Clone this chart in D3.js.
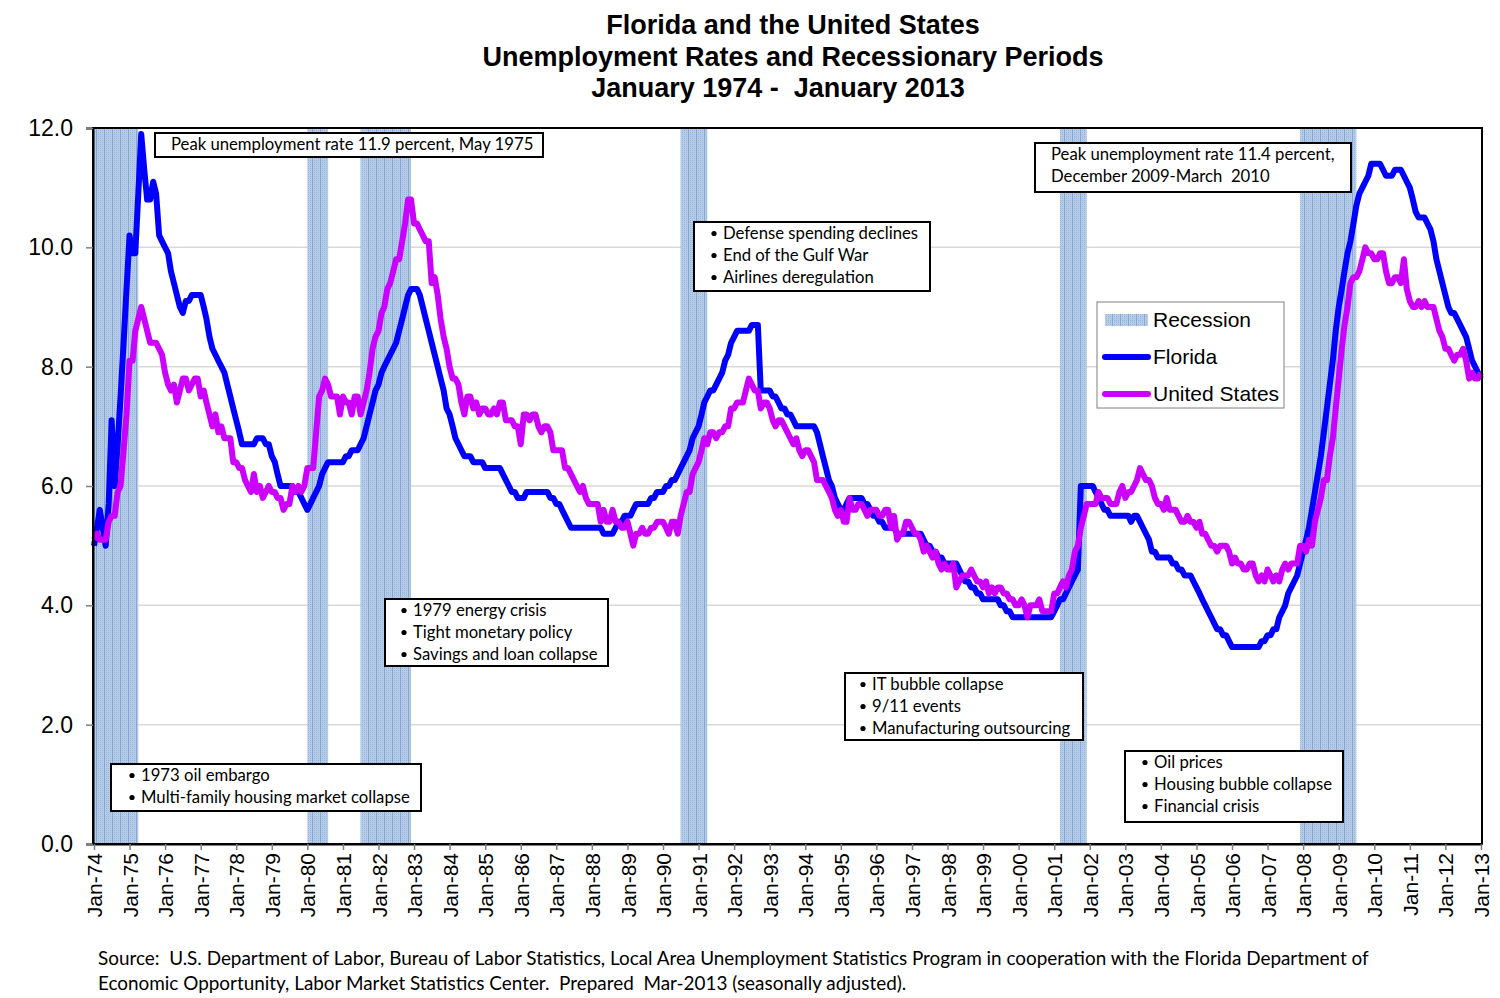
<!DOCTYPE html>
<html>
<head>
<meta charset="utf-8">
<script src="https://cdn.jsdelivr.net/npm/d3@7"></script>
<style>
  body { margin: 0; background: #fff; }
  text { white-space: pre; }
  .axis text { font-family: Arial, "Liberation Sans", sans-serif; fill: #000; }
  .note, .source { font-family: Lato, "Open Sans", sans-serif; fill: #000; }
  .title { font-family: Arial, "Liberation Sans", sans-serif; font-weight: bold; font-size: 27px; }
  .legend text { font-family: Arial, "Liberation Sans", sans-serif; font-size: 21px; }
</style>
</head>
<body>
<div id="chart"></div>
<script>

// monthly rates, Jan 1974 .. Jan 2013 (seasonally adjusted, percent)
var floridaRate = [
  5.0, 5.3, 5.6, 5.3, 5.0, 5.7, 7.1, 6.0, 6.7, 7.5, 8.4, 9.3,        // 1974
  10.2, 9.9, 9.9, 10.9, 11.9, 11.3, 10.8, 10.8, 11.1, 10.9, 10.2, 10.1, // 1975
  10.0, 9.9, 9.6, 9.4, 9.2, 9.0, 8.9, 9.1, 9.1, 9.2, 9.2, 9.2,       // 1976
  9.2, 9.0, 8.8, 8.5, 8.3, 8.2, 8.1, 8.0, 7.9, 7.7, 7.5, 7.3,        // 1977
  7.1, 6.9, 6.7, 6.7, 6.7, 6.7, 6.7, 6.8, 6.8, 6.8, 6.7, 6.7,        // 1978
  6.5, 6.4, 6.2, 6.0, 6.0, 6.0, 6.0, 6.0, 5.9, 5.9, 5.8, 5.7,        // 1979
  5.6, 5.7, 5.8, 5.9, 6.0, 6.2, 6.3, 6.4, 6.4, 6.4, 6.4, 6.4,        // 1980
  6.4, 6.5, 6.5, 6.6, 6.6, 6.6, 6.7, 6.8, 7.0, 7.2, 7.4, 7.6,        // 1981
  7.7, 7.9, 8.0, 8.1, 8.2, 8.3, 8.4, 8.6, 8.8, 9.0, 9.2, 9.3,        // 1982
  9.3, 9.3, 9.2, 9.0, 8.8, 8.6, 8.4, 8.2, 8.0, 7.8, 7.6, 7.3,        // 1983
  7.2, 7.0, 6.8, 6.7, 6.6, 6.5, 6.5, 6.5, 6.4, 6.4, 6.4, 6.4,        // 1984
  6.3, 6.3, 6.3, 6.3, 6.3, 6.3, 6.2, 6.1, 6.0, 5.9, 5.9, 5.8,        // 1985
  5.8, 5.8, 5.9, 5.9, 5.9, 5.9, 5.9, 5.9, 5.9, 5.9, 5.8, 5.8,        // 1986
  5.7, 5.7, 5.6, 5.5, 5.4, 5.3, 5.3, 5.3, 5.3, 5.3, 5.3, 5.3,        // 1987
  5.3, 5.3, 5.3, 5.3, 5.2, 5.2, 5.2, 5.2, 5.3, 5.4, 5.4, 5.5,        // 1988
  5.5, 5.5, 5.6, 5.7, 5.7, 5.7, 5.7, 5.7, 5.8, 5.8, 5.9, 5.9,        // 1989
  5.9, 6.0, 6.0, 6.1, 6.1, 6.2, 6.3, 6.4, 6.5, 6.6, 6.8, 6.9,        // 1990
  7.0, 7.2, 7.4, 7.5, 7.6, 7.6, 7.7, 7.8, 7.9, 8.1, 8.2, 8.4,        // 1991
  8.5, 8.6, 8.6, 8.6, 8.6, 8.6, 8.7, 8.7, 8.7, 7.6, 7.6, 7.6,        // 1992
  7.6, 7.5, 7.5, 7.4, 7.3, 7.3, 7.2, 7.2, 7.1, 7.0, 7.0, 7.0,        // 1993
  7.0, 7.0, 7.0, 7.0, 6.9, 6.7, 6.5, 6.3, 6.1, 6.0, 5.8, 5.7,        // 1994
  5.6, 5.6, 5.7, 5.8, 5.8, 5.8, 5.8, 5.8, 5.7, 5.7, 5.6, 5.5,        // 1995
  5.5, 5.4, 5.4, 5.3, 5.3, 5.3, 5.3, 5.2, 5.2, 5.2, 5.2, 5.2,        // 1996
  5.2, 5.2, 5.2, 5.2, 5.1, 5.0, 5.0, 4.9, 4.9, 4.8, 4.8, 4.7,        // 1997
  4.7, 4.7, 4.7, 4.7, 4.6, 4.5, 4.4, 4.4, 4.3, 4.3, 4.2, 4.2,        // 1998
  4.1, 4.1, 4.1, 4.1, 4.1, 4.1, 4.0, 4.0, 3.9, 3.9, 3.8, 3.8,        // 1999
  3.8, 3.8, 3.8, 3.8, 3.8, 3.8, 3.8, 3.8, 3.8, 3.8, 3.8, 3.8,        // 2000
  3.9, 4.0, 4.1, 4.1, 4.2, 4.3, 4.4, 4.5, 4.6, 6.0, 6.0, 6.0,        // 2001
  6.0, 6.0, 5.9, 5.8, 5.7, 5.6, 5.6, 5.5, 5.5, 5.5, 5.5, 5.5,        // 2002
  5.5, 5.5, 5.4, 5.5, 5.5, 5.4, 5.3, 5.2, 5.1, 4.9, 4.9, 4.8,        // 2003
  4.8, 4.8, 4.8, 4.8, 4.7, 4.7, 4.6, 4.6, 4.5, 4.5, 4.5, 4.4,        // 2004
  4.3, 4.2, 4.1, 4.0, 3.9, 3.8, 3.7, 3.6, 3.6, 3.5, 3.5, 3.4,        // 2005
  3.3, 3.3, 3.3, 3.3, 3.3, 3.3, 3.3, 3.3, 3.3, 3.3, 3.4, 3.4,        // 2006
  3.5, 3.5, 3.6, 3.6, 3.8, 3.9, 4.0, 4.2, 4.3, 4.4, 4.5, 4.7,        // 2007
  4.9, 5.1, 5.3, 5.6, 5.9, 6.2, 6.5, 6.9, 7.3, 7.7, 8.1, 8.6,        // 2008
  9.0, 9.3, 9.6, 9.9, 10.1, 10.4, 10.7, 10.9, 11.0, 11.1, 11.2, 11.4, // 2009
  11.4, 11.4, 11.4, 11.3, 11.2, 11.2, 11.2, 11.3, 11.3, 11.3, 11.2, 11.1, // 2010
  11.0, 10.8, 10.6, 10.5, 10.5, 10.5, 10.4, 10.3, 10.1, 9.8, 9.6, 9.4, // 2011
  9.2, 9.0, 8.9, 8.9, 8.8, 8.7, 8.6, 8.5, 8.3, 8.1, 8.0, 7.9,        // 2012
  7.8                                                                  // 2013
];

var usRate = [
  5.1, 5.2, 5.1, 5.1, 5.1, 5.4, 5.5, 5.5, 5.9, 6.0, 6.6, 7.2,        // 1974
  8.1, 8.1, 8.6, 8.8, 9.0, 8.8, 8.6, 8.4, 8.4, 8.4, 8.3, 8.2,        // 1975
  7.9, 7.7, 7.6, 7.7, 7.4, 7.6, 7.8, 7.8, 7.6, 7.7, 7.8, 7.8,        // 1976
  7.5, 7.6, 7.4, 7.2, 7.0, 7.2, 6.9, 7.0, 6.8, 6.8, 6.8, 6.4,        // 1977
  6.4, 6.3, 6.3, 6.1, 6.0, 5.9, 6.2, 5.9, 6.0, 5.8, 5.9, 6.0,        // 1978
  5.9, 5.9, 5.8, 5.8, 5.6, 5.7, 5.7, 6.0, 5.9, 6.0, 5.9, 6.0,        // 1979
  6.3, 6.3, 6.3, 6.9, 7.5, 7.6, 7.8, 7.7, 7.5, 7.5, 7.5, 7.2,        // 1980
  7.5, 7.4, 7.4, 7.2, 7.5, 7.5, 7.2, 7.4, 7.6, 7.9, 8.3, 8.5,        // 1981
  8.6, 8.9, 9.0, 9.3, 9.4, 9.6, 9.8, 9.8, 10.1, 10.4, 10.8, 10.8,    // 1982
  10.4, 10.4, 10.3, 10.2, 10.1, 10.1, 9.4, 9.5, 9.2, 8.8, 8.5, 8.3,  // 1983
  8.0, 7.8, 7.8, 7.7, 7.4, 7.2, 7.5, 7.5, 7.3, 7.4, 7.2, 7.3,        // 1984
  7.3, 7.2, 7.2, 7.3, 7.2, 7.4, 7.4, 7.1, 7.1, 7.1, 7.0, 7.0,        // 1985
  6.7, 7.2, 7.2, 7.1, 7.2, 7.2, 7.0, 6.9, 7.0, 7.0, 6.9, 6.6,        // 1986
  6.6, 6.6, 6.6, 6.3, 6.3, 6.2, 6.1, 6.0, 5.9, 6.0, 5.8, 5.7,        // 1987
  5.7, 5.7, 5.7, 5.4, 5.6, 5.4, 5.4, 5.6, 5.4, 5.4, 5.3, 5.3,        // 1988
  5.4, 5.2, 5.0, 5.2, 5.2, 5.3, 5.2, 5.2, 5.3, 5.3, 5.4, 5.4,        // 1989
  5.4, 5.3, 5.2, 5.4, 5.4, 5.2, 5.5, 5.7, 5.9, 5.9, 6.2, 6.3,        // 1990
  6.4, 6.6, 6.8, 6.7, 6.9, 6.9, 6.8, 6.9, 6.9, 7.0, 7.0, 7.3,        // 1991
  7.3, 7.4, 7.4, 7.4, 7.6, 7.8, 7.7, 7.6, 7.6, 7.3, 7.4, 7.4,        // 1992
  7.3, 7.1, 7.0, 7.1, 7.1, 7.0, 6.9, 6.8, 6.7, 6.8, 6.6, 6.5,        // 1993
  6.6, 6.6, 6.5, 6.4, 6.1, 6.1, 6.1, 6.0, 5.9, 5.8, 5.6, 5.5,        // 1994
  5.6, 5.4, 5.4, 5.8, 5.6, 5.6, 5.7, 5.7, 5.6, 5.5, 5.6, 5.6,        // 1995
  5.6, 5.5, 5.5, 5.6, 5.6, 5.3, 5.5, 5.1, 5.2, 5.2, 5.4, 5.4,        // 1996
  5.3, 5.2, 5.2, 5.1, 4.9, 5.0, 4.9, 4.8, 4.9, 4.7, 4.6, 4.7,        // 1997
  4.6, 4.6, 4.7, 4.3, 4.4, 4.5, 4.5, 4.5, 4.6, 4.5, 4.4, 4.4,        // 1998
  4.3, 4.4, 4.2, 4.3, 4.2, 4.3, 4.3, 4.2, 4.2, 4.1, 4.1, 4.0,        // 1999
  4.0, 4.1, 4.0, 3.8, 4.0, 4.0, 4.0, 4.1, 3.9, 3.9, 3.9, 3.9,        // 2000
  4.2, 4.2, 4.3, 4.4, 4.3, 4.5, 4.6, 4.9, 5.0, 5.3, 5.5, 5.7,        // 2001
  5.7, 5.7, 5.7, 5.9, 5.8, 5.8, 5.8, 5.7, 5.7, 5.7, 5.9, 6.0,        // 2002
  5.8, 5.9, 5.9, 6.0, 6.1, 6.3, 6.2, 6.1, 6.1, 6.0, 5.8, 5.7,        // 2003
  5.7, 5.6, 5.8, 5.6, 5.6, 5.6, 5.5, 5.4, 5.4, 5.5, 5.4, 5.4,        // 2004
  5.3, 5.4, 5.2, 5.2, 5.1, 5.0, 5.0, 4.9, 5.0, 5.0, 5.0, 4.9,        // 2005
  4.7, 4.8, 4.7, 4.7, 4.6, 4.6, 4.7, 4.7, 4.5, 4.4, 4.5, 4.4,        // 2006
  4.6, 4.5, 4.4, 4.5, 4.4, 4.6, 4.7, 4.6, 4.7, 4.7, 4.7, 5.0,        // 2007
  5.0, 4.9, 5.1, 5.0, 5.4, 5.6, 5.8, 6.1, 6.1, 6.5, 6.8, 7.3,        // 2008
  7.8, 8.3, 8.7, 9.0, 9.4, 9.5, 9.5, 9.6, 9.8, 10.0, 9.9, 9.9,       // 2009
  9.8, 9.8, 9.9, 9.9, 9.6, 9.4, 9.4, 9.5, 9.5, 9.4, 9.8, 9.3,        // 2010
  9.1, 9.0, 9.0, 9.1, 9.0, 9.1, 9.0, 9.0, 9.0, 8.8, 8.6, 8.5,        // 2011
  8.3, 8.3, 8.2, 8.1, 8.2, 8.2, 8.3, 8.1, 7.8, 7.9, 7.8, 7.8,        // 2012
  7.9                                                                  // 2013
];

// recession start / end months (NBER), clipped to the chart range
var recessions = [
  ["1974-01", "1975-03"],
  ["1980-01", "1980-07"],
  ["1981-07", "1982-11"],
  ["1990-07", "1991-03"],
  ["2001-03", "2001-11"],
  ["2007-12", "2009-06"]
];

var rateTicks = [0, 2, 4, 6, 8, 10, 12];

var titleLines = [
  "Florida and the United States",
  "Unemployment Rates and Recessionary Periods",
  "January 1974 -  January 2013"
];

var seriesNames = ["Recession", "Florida", "United States"];

var noteTexts = [
  ["Peak unemployment rate 11.9 percent, May 1975"],
  ["Peak unemployment rate 11.4 percent,", "December 2009-March  2010"],
  ["Defense spending declines", "End of the Gulf War", "Airlines deregulation"],
  ["1979 energy crisis", "Tight monetary policy", "Savings and loan collapse"],
  ["IT bubble collapse", "9/11 events", "Manufacturing outsourcing"],
  ["1973 oil embargo", "Multi-family housing market collapse"],
  ["Oil prices", "Housing bubble collapse", "Financial crisis"]
];

var sourceLines = [
  "Source:  U.S. Department of Labor, Bureau of Labor Statistics, Local Area Unemployment Statistics Program in cooperation with the Florida Department of",
  "Economic Opportunity, Labor Market Statistics Center.  Prepared  Mar-2013 (seasonally adjusted)."
];

// ---------------------------------------------------------------------

var width = 1500, height = 998;
var plot = { left: 94, right: 1481, top: 128, bottom: 844 };

var parseMonth = d3.timeParse("%Y-%m");
var months = floridaRate.map(function(d, i) { return new Date(1974, i, 1); });

var data = months.map(function(m, i) {
  return { date: m, fl: floridaRate[i], us: usRate[i] };
});

var svg = d3.select("#chart").append("svg")
  .attr("width", width)
  .attr("height", height);

var defs = svg.append("defs");

// light blue dotted fill used for the recession bands
var pat = defs.append("pattern")
  .attr("id", "recessionFill")
  .attr("patternUnits", "userSpaceOnUse")
  .attr("width", 8)
  .attr("height", 2);
pat.append("rect").attr("width", 8).attr("height", 2).attr("fill", "#b6cce8");
[2, 4, 6].forEach(function(px) {
  pat.append("rect").attr("x", px).attr("y", 0).attr("width", 1).attr("height", 1).attr("fill", "#95b3db");
});
pat.append("rect").attr("x", 0).attr("width", 1).attr("height", 2).attr("fill", "#86a6d2");

var x = d3.scaleTime()
  .domain([new Date(1974, 0, 1), new Date(2013, 0, 1)])
  .range([plot.left, plot.right]);

var y = d3.scaleLinear()
  .domain([0, 12])
  .range([plot.bottom, plot.top]);

// gridlines
svg.append("g").selectAll("line")
  .data(rateTicks.filter(function(d) { return d > 0 && d < 12; }))
  .enter().append("line")
  .attr("x1", plot.left)
  .attr("x2", plot.right)
  .attr("y1", function(d) { return y(d); })
  .attr("y2", function(d) { return y(d); })
  .attr("stroke", "#d9d9d9")
  .attr("stroke-width", 1.5);

// recession bands
svg.append("g").selectAll("rect")
  .data(recessions)
  .enter().append("rect")
  .attr("x", function(d) { return x(parseMonth(d[0])); })
  .attr("width", function(d) {
    return x(d3.timeMonth.offset(parseMonth(d[1]), 1)) - x(parseMonth(d[0]));
  })
  .attr("y", plot.top)
  .attr("height", plot.bottom - plot.top)
  .attr("fill", "url(#recessionFill)");

// series lines
var lineFl = d3.line()
  .x(function(d) { return x(d.date); })
  .y(function(d) { return y(d.fl); });

var lineUs = d3.line()
  .x(function(d) { return x(d.date); })
  .y(function(d) { return y(d.us); });

svg.append("path")
  .datum(data)
  .attr("d", lineFl)
  .attr("fill", "none")
  .attr("stroke", "#0000ff")
  .attr("stroke-width", 6)
  .attr("stroke-linejoin", "round");

svg.append("path")
  .datum(data)
  .attr("d", lineUs)
  .attr("fill", "none")
  .attr("stroke", "#cc00ff")
  .attr("stroke-width", 6)
  .attr("stroke-linejoin", "round");

// frame
svg.append("rect")
  .attr("x", plot.left - 1)
  .attr("y", plot.top)
  .attr("width", plot.right - plot.left + 2)
  .attr("height", plot.bottom - plot.top)
  .attr("fill", "none")
  .attr("stroke", "#000")
  .attr("stroke-width", 2);

// axes
var yAxis = d3.axisLeft(y)
  .tickValues(rateTicks)
  .tickFormat(d3.format(".1f"))
  .tickSize(7)
  .tickPadding(13);

svg.append("g")
  .attr("class", "axis")
  .attr("transform", "translate(" + (plot.left - 1) + ",0)")
  .call(yAxis)
  .call(function(g) {
    g.select(".domain").attr("stroke", "#000").attr("stroke-width", 2);
    g.selectAll(".tick line").attr("stroke", "#808080").attr("stroke-width", 1.5);
    g.selectAll("text").style("font-size", "23px");
  });

var xAxis = d3.axisBottom(x)
  .ticks(d3.timeYear.every(1))
  .tickFormat(d3.timeFormat("%b-%y"))
  .tickSize(6)
  .tickSizeOuter(0);

svg.append("g")
  .attr("class", "axis")
  .attr("transform", "translate(0," + plot.bottom + ")")
  .call(xAxis)
  .call(function(g) {
    g.select(".domain").attr("stroke", "#000").attr("stroke-width", 2);
    g.selectAll(".tick line").attr("stroke", "#808080").attr("stroke-width", 1.5);
    g.selectAll("text")
      .attr("x", -9)
      .attr("y", 0)
      .attr("dy", "0.36em")
      .attr("transform", "rotate(-90)")
      .style("text-anchor", "end")
      .style("font-size", "21px");
  });

// annotation boxes: [left, top, width, height, textLeft, bulleted]
var noteLayout = [
  [155, 133, 388, 24, 171, false],
  [1035, 143, 316, 49, 1051, false],
  [694, 222, 236, 69, 723, true],
  [385, 599, 223, 67, 413, true],
  [845, 673, 238, 67, 872, true],
  [111, 764, 310, 47, 141, true],
  [1125, 751, 218, 71, 1154, true]
];

noteLayout.forEach(function(l, i) {
  var g = svg.append("g").attr("class", "note");
  g.append("rect")
    .attr("x", l[0]).attr("y", l[1])
    .attr("width", l[2]).attr("height", l[3])
    .attr("fill", "#fff")
    .attr("stroke", "#000")
    .attr("stroke-width", 2);
  noteTexts[i].forEach(function(t, j) {
    var cy = l[1] + 11.5 + j * 22;
    if (l[5]) {
      g.append("circle")
        .attr("cx", l[4] - 9).attr("cy", cy)
        .attr("r", 2.6)
        .attr("fill", "#000");
    }
    g.append("text")
      .attr("x", l[4])
      .attr("y", cy)
      .attr("dy", "0.35em")
      .style("font-size", "16.7px")
      .text(t);
  });
});

// legend
var legend = svg.append("g").attr("class", "legend");
legend.append("rect")
  .attr("x", 1097).attr("y", 302)
  .attr("width", 187).attr("height", 106)
  .attr("fill", "#fff")
  .attr("stroke", "#808080")
  .attr("stroke-width", 1);

legend.append("rect")
  .attr("x", 1105).attr("y", 314)
  .attr("width", 43).attr("height", 12)
  .attr("fill", "url(#recessionFill)");

[["#0000ff", 357], ["#cc00ff", 394]].forEach(function(s) {
  legend.append("line")
    .attr("x1", 1105).attr("x2", 1148)
    .attr("y1", s[1]).attr("y2", s[1])
    .attr("stroke", s[0])
    .attr("stroke-width", 6)
    .attr("stroke-linecap", "round");
});

legend.selectAll("text")
  .data(seriesNames)
  .enter().append("text")
  .attr("x", 1153)
  .attr("y", function(d, i) { return 320 + i * 37; })
  .attr("dy", "0.35em")
  .text(function(d) { return d; });

// title (third line sits a little left of centre in the original)
var titleX = [793, 793, 778];
svg.append("g").selectAll("text")
  .data(titleLines)
  .enter().append("text")
  .attr("class", "title")
  .attr("x", function(d, i) { return titleX[i]; })
  .attr("y", function(d, i) { return 34 + i * 31.5; })
  .attr("text-anchor", "middle")
  .text(function(d) { return d; });

// source note
svg.append("g").selectAll("text")
  .data(sourceLines)
  .enter().append("text")
  .attr("class", "source")
  .attr("x", 98)
  .attr("y", function(d, i) { return 965 + i * 24.5; })
  .style("font-size", "18.9px")
  .text(function(d) { return d; });

</script>
</body>
</html>
